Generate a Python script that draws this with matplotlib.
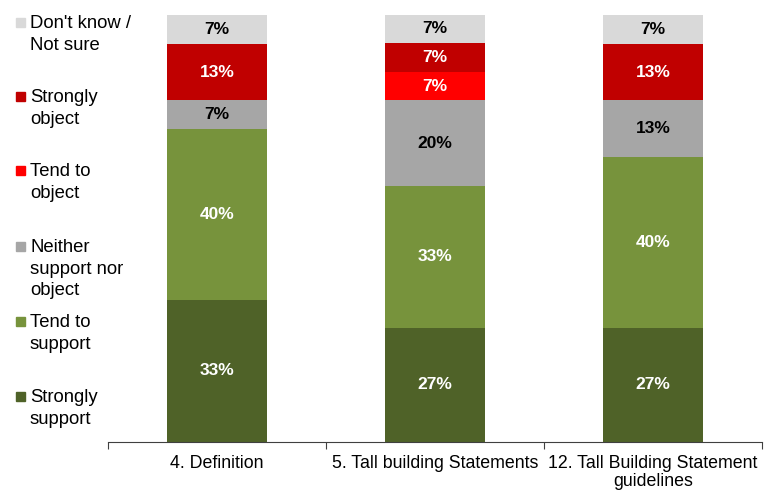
import matplotlib.pyplot as plt
from matplotlib.patches import Rectangle
import numpy as np

plt.rcParams['font.family'] = ['Liberation Sans', 'DejaVu Sans']

categories = ['4. Definition', '5. Tall building Statements',
              '12. Tall Building Statement\nguidelines']
# stacked from the bottom up
series = ['Strongly\nsupport', 'Tend to\nsupport', 'Neither\nsupport nor\nobject',
          'Tend to\nobject', 'Strongly\nobject', "Don't know /\nNot sure"]
values = {
    'Strongly\nsupport': [33.3, 26.7, 26.7],
    'Tend to\nsupport': [40.0, 33.3, 40.0],
    'Neither\nsupport nor\nobject': [6.7, 20.0, 13.3],
    'Tend to\nobject': [0.0, 6.7, 0.0],
    'Strongly\nobject': [13.3, 6.7, 13.3],
    "Don't know /\nNot sure": [6.7, 6.7, 6.7],
}
colors = ['#4F6228', '#77933C', '#A6A6A6', '#FF0000', '#C00000', '#D9D9D9']
text_colors = ['white', 'white', 'black', 'white', 'white', 'black']

fig = plt.figure(figsize=(7.67, 4.91), dpi=100)
ax = fig.add_axes([108 / 767, 1 - 442 / 491, 654 / 767, 427 / 491])

x = np.arange(len(categories))
bottom = np.zeros(len(categories))
for name, col, tcol in zip(series, colors, text_colors):
    v = np.array(values[name])
    ax.bar(x, v, 0.46, bottom=bottom, color=col, edgecolor='none')
    for xi, b, vi in zip(x, bottom, v):
        if vi > 0:
            ax.text(xi, b + vi / 2, f'{vi:.0f}%', ha='center', va='center',
                    color=tcol, fontsize=12.5, fontweight='bold')
    bottom += v

ax.set_xlim(-0.5, len(categories) - 0.5)
ax.set_ylim(0, 100)
ax.set_yticks([])
for s in ['top', 'right', 'left']:
    ax.spines[s].set_visible(False)
ax.spines['bottom'].set_color('#404040')
ax.set_xticks(np.arange(len(categories) + 1) - 0.5)
ax.set_xticklabels([])
ax.set_xticks(x, minor=True)
ax.set_xticklabels(categories, minor=True, fontsize=12.8, linespacing=1.15)
ax.tick_params(axis='x', which='major', length=5, direction='out', color='#404040')
ax.tick_params(axis='x', which='minor', length=0, pad=9)

# legend on the left, top entry first
leg_tops = [15, 89, 163, 239, 314, 389]
for name, col, top in zip(series[::-1], colors[::-1], leg_tops):
    fig.patches.append(Rectangle((16 / 767, 1 - (top + 12) / 491), 9 / 767, 9 / 491,
                                 transform=fig.transFigure, color=col))
    fig.text(30 / 767, 1 - top / 491, name, ha='left', va='top',
             fontsize=13.3, linespacing=1.35)

fig.savefig('out.png', dpi=100)
